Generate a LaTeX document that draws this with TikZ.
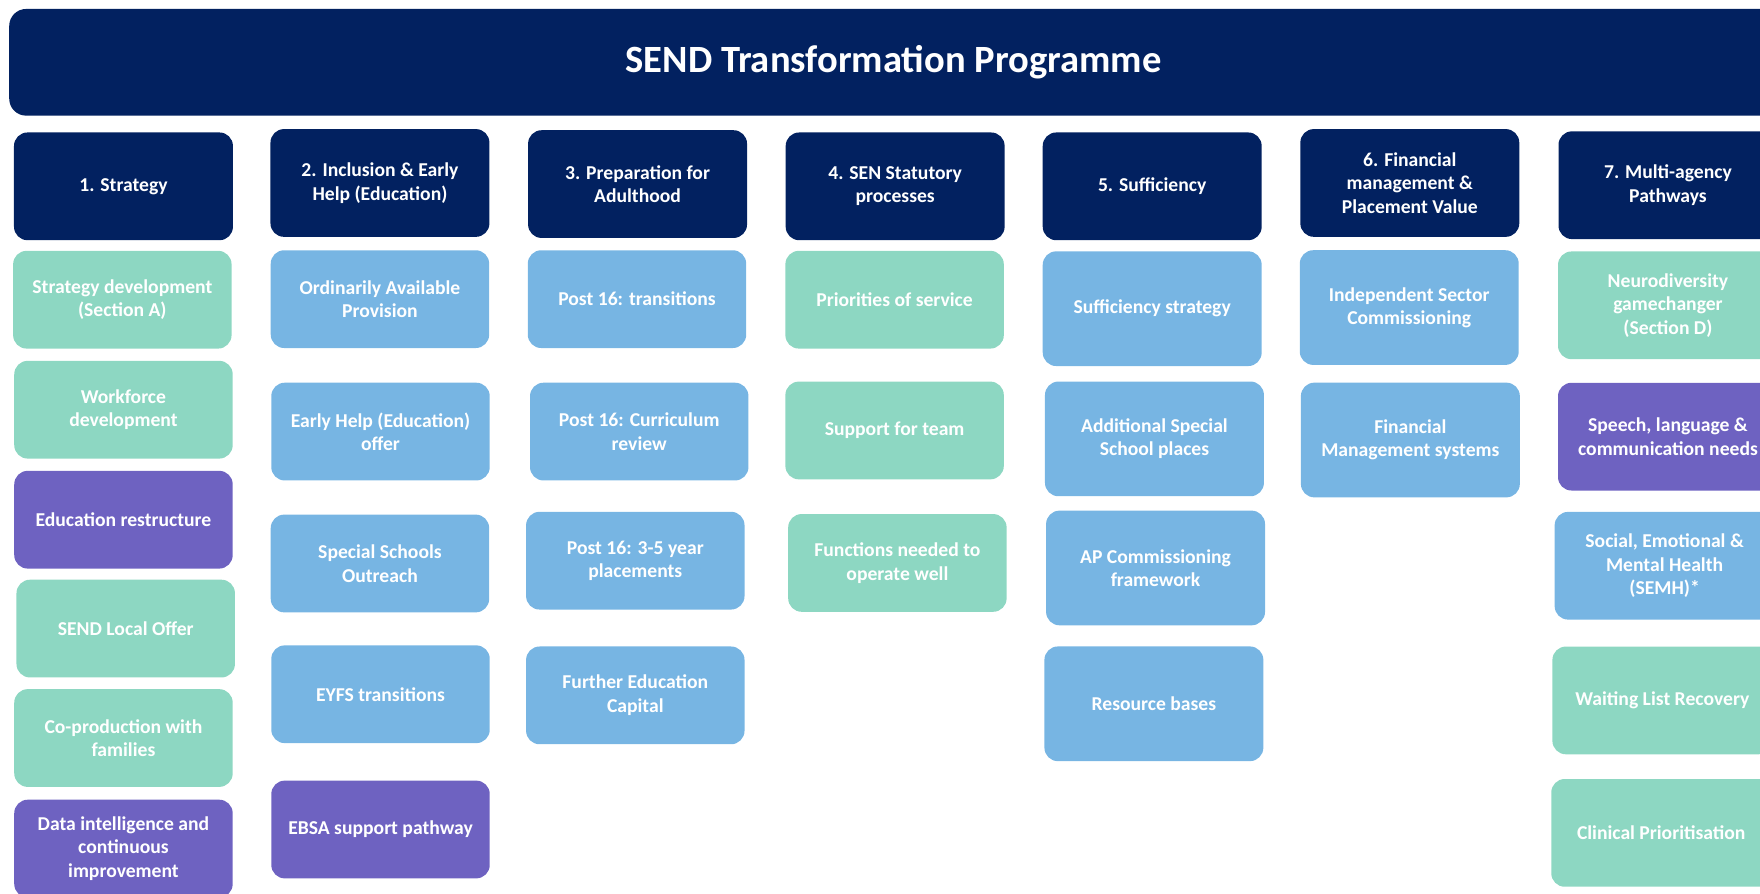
\documentclass[tikz,border=0pt]{standalone}
\usepackage{fontspec}
\setmainfont{Carlito}
\usepackage{tikz}
\usetikzlibrary{shapes}
\definecolor{navy}{HTML}{022160}
\definecolor{mint}{HTML}{8DD7C2}
\definecolor{sky}{HTML}{77B5E3}
\definecolor{lilac}{HTML}{6E62C1}
\tikzstyle{box}=[rectangle,rounded corners=0.27cm,draw=none,text=white,align=center,inner sep=0pt,font=\bfseries\fontsize{11.2}{13.4}\selectfont]
\tikzstyle{titlebar}=[box,fill=navy,rounded corners=0.34cm,minimum width=35.46cm,minimum height=2.14cm,font=\bfseries\fontsize{22}{26}\selectfont]
\tikzstyle{header}=[box,fill=navy,minimum width=4.39cm,minimum height=2.16cm]
\tikzstyle{item}=[box,minimum width=4.38cm,minimum height=1.96cm]
\tikzstyle{tallitem}=[box,minimum width=4.39cm,minimum height=2.3cm]
\tikzstyle{wideitem}=[box,minimum width=4.41cm,minimum height=2.16cm]

\begin{document}
\begin{tikzpicture}[x=0.0225cm,y=-0.0225cm]

\useasboundingbox (0,0) rectangle (1568,796);
\clip (0,0) rectangle (1568,796);

% Title
\node[titlebar] (title) at (796,55.5) {SEND Transformation Programme};

%headers
    \foreach \pos/\name/\txt in {{(110,166)/h1/{1. Strategy}}, {(338.5,163)/h2/{2. Inclusion \& Early\\Help (Education)}}, {(568,164)/h3/{3. Preparation for\\Adulthood}}, {(797.5,166)/h4/{4. SEN Statutory\\processes}}, {(1026.5,166)/h5/{5. Sufficiency}}, {(1256,163)/h6/{6. Financial\\management \&\\Placement Value}}, {(1486,165)/h7/{7. Multi-agency\\Pathways}}}
        \node[header] (\name) at \pos {\txt};

%column 1
    \foreach \pos/\name/\col/\txt in {{(109,267)/a1/mint/{Strategy development\\(Section A)}}, {(110,365)/a2/mint/{Workforce\\development}}, {(110,463)/a3/lilac/{Education restructure}}, {(112,560)/a4/mint/{SEND Local Offer}}, {(110,657.5)/a5/mint/{Co-production with\\families}}, {(110,756)/a6/lilac/{Data intelligence and\\continuous\\improvement}}}
        \node[item,fill=\col] (\name) at \pos {\txt};

%column 2
    \foreach \pos/\name/\col/\txt in {{(338.5,266.5)/b1/sky/{Ordinarily Available\\Provision}}, {(339,384.5)/b2/sky/{Early Help (Education)\\offer}}, {(338.5,502)/b3/sky/{Special Schools\\Outreach}}, {(339,618.5)/b4/sky/{EYFS transitions}}, {(339,739)/b5/lilac/{EBSA support pathway}}}
        \node[item,fill=\col] (\name) at \pos {\txt};

%column 3
    \foreach \pos/\name/\col/\txt in {{(567.5,266.5)/c1/sky/{Post 16: transitions}}, {(569.5,384.5)/c2/sky/{Post 16: Curriculum\\review}}, {(566,499.5)/c3/sky/{Post 16: 3-5 year\\placements}}, {(566,619.5)/c4/sky/{Further Education\\Capital}}}
        \node[item,fill=\col] (\name) at \pos {\txt};

%column 4
    \foreach \pos/\name/\col/\txt in {{(797,267)/d1/mint/{Priorities of service}}, {(797,383.5)/d2/mint/{Support for team}}, {(799.5,501.5)/d3/mint/{Functions needed to\\operate well}}}
        \node[item,fill=\col] (\name) at \pos {\txt};

%column 5
    \foreach \pos/\name/\col/\txt in {{(1026.5,275)/e1/sky/{Sufficiency strategy}}, {(1028.5,391)/e2/sky/{Additional Special\\School places}}, {(1029.5,506)/e3/sky/{AP Commissioning\\framework}}, {(1028,627)/e4/sky/{Resource bases}}}
        \node[tallitem,fill=\col] (\name) at \pos {\txt};

%column 6
    \foreach \pos/\name/\col/\txt in {{(1255.5,274)/f1/sky/{Independent Sector\\Commissioning}}, {(1256.5,392)/f2/sky/{Financial\\Management systems}}}
        \node[tallitem,fill=\col] (\name) at \pos {\txt};

%column 7
    \foreach \pos/\name/\col/\txt in {{(1486,272)/g1/mint/{Neurodiversity\\gamechanger\\(Section D)}}, {(1486,389)/g2/lilac/{Speech, language \&\\communication needs}}, {(1483,504)/g3/sky/{Social, Emotional \&\\Mental Health\\(SEMH)*}}, {(1481,624)/g4/mint/{Waiting List Recovery}}, {(1480,742)/g5/mint/{Clinical Prioritisation}}}
        \node[wideitem,fill=\col] (\name) at \pos {\txt};

\end{tikzpicture}
\end{document}
